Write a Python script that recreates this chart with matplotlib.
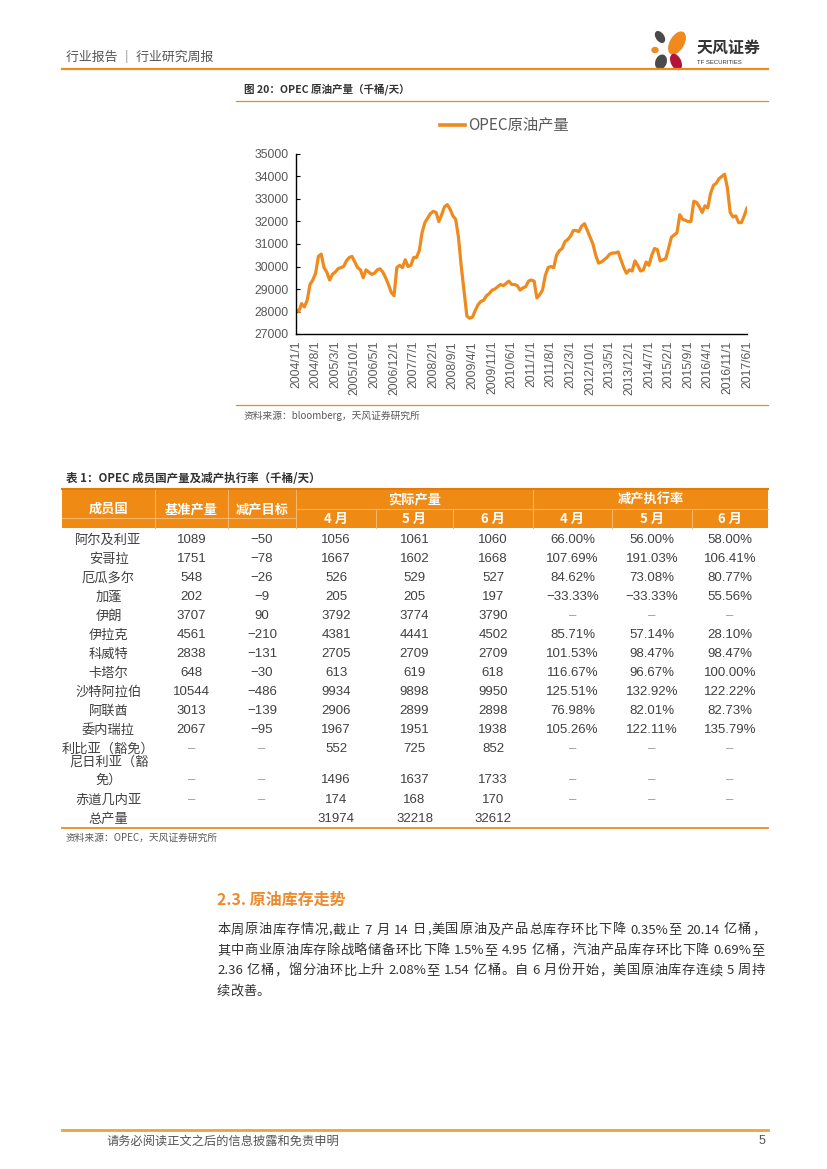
import re
import numpy as np
import pandas as pd
import matplotlib
matplotlib.use("Agg")
import matplotlib.pyplot as plt
from matplotlib.patches import Rectangle, Ellipse
from matplotlib.font_manager import FontProperties

plt.rcParams['font.family'] = ['Liberation Sans', 'Noto Sans CJK SC', 'DejaVu Sans']

ORANGE = '#EE8A1E'
GRAY = '#595959'
DARK = '#333333'

# ---- chart data: OPEC crude output, monthly 2004/1 .. 2017/6 (kb/d)
opec = [28050, 28000, 28350, 28200, 28500, 29200, 29400, 29700, 30450, 30550,
        29950, 29750, 29400, 29650, 29750, 29900, 29950, 30000, 30250, 30400,
        30450, 30200, 29950, 29850, 29500, 29850, 29750, 29650, 29700, 29850,
        29900, 29750, 29500, 29200, 28850, 28700, 29950, 30050, 29950, 30300,
        30000, 30050, 30400, 30400, 30700, 31500, 31950, 32150, 32350, 32450,
        32400, 32000, 32300, 32650, 32750, 32550, 32250, 32100, 31300, 30000,
        28900, 27800, 27700, 27750, 28050, 28300, 28450, 28500, 28700, 28800,
        28950, 29000, 29100, 29200, 29150, 29250, 29350, 29200, 29200, 29150,
        28950, 29050, 29100, 29350, 29400, 29350, 28600, 28750, 28950, 29600,
        29950, 30000, 29950, 30500, 30700, 30800, 31100, 31200, 31350, 31600,
        31600, 31550, 31800, 31900, 31600, 31300, 31000, 30500, 30150, 30200,
        30300, 30400, 30550, 30600, 30600, 30650, 30300, 29950, 29700, 29850,
        29800, 30250, 30050, 29800, 29850, 30200, 30050, 30500, 30800, 30750,
        30250, 30300, 30350, 30800, 31300, 31400, 31500, 32300, 32100, 32050,
        32000, 32000, 32900, 32850, 32650, 32400, 32700, 32600, 33250, 33600,
        33700, 33900, 34000, 34100, 33500, 32400, 32200, 32250, 31950, 31950,
        32250, 32600]
months = pd.date_range('2004-01-01', periods=len(opec), freq='MS')
month_labels = [f'{d.year}/{d.month}/1' for d in months]

# ---- table data
countries = ['阿尔及利亚', '安哥拉', '厄瓜多尔', '加蓬', '伊朗', '伊拉克', '科威特', '卡塔尔',
             '沙特阿拉伯', '阿联酋', '委内瑞拉', '利比亚（豁免）', '尼日利亚（豁\n免）',
             '赤道几内亚', '总产量']
base = ['1089', '1751', '548', '202', '3707', '4561', '2838', '648', '10544', '3013',
        '2067', '–', '–', '–', '']
target = ['−50', '−78', '−26', '−9', '90', '−210', '−131', '−30', '−486', '−139',
          '−95', '–', '–', '–', '']
prod_apr = ['1056', '1667', '526', '205', '3792', '4381', '2705', '613', '9934', '2906',
            '1967', '552', '1496', '174', '31974']
prod_may = ['1061', '1602', '529', '205', '3774', '4441', '2709', '619', '9898', '2899',
            '1951', '725', '1637', '168', '32218']
prod_jun = ['1060', '1668', '527', '197', '3790', '4502', '2709', '618', '9950', '2898',
            '1938', '852', '1733', '170', '32612']
rate_apr = ['66.00%', '107.69%', '84.62%', '−33.33%', '–', '85.71%', '101.53%', '116.67%',
            '125.51%', '76.98%', '105.26%', '–', '–', '–', '']
rate_may = ['56.00%', '191.03%', '73.08%', '−33.33%', '–', '57.14%', '98.47%', '96.67%',
            '132.92%', '82.01%', '122.11%', '–', '–', '–', '']
rate_jun = ['58.00%', '106.41%', '80.77%', '55.56%', '–', '28.10%', '98.47%', '100.00%',
            '122.22%', '82.73%', '135.79%', '–', '–', '–', '']

paragraph = [
    '本周原油库存情况,截止 7 月 14 日,美国原油及产品总库存环比下降 0.35%至 20.14 亿桶，',
    '其中商业原油库存除战略储备环比下降 1.5%至 4.95 亿桶，汽油产品库存环比下降 0.69%至',
    '2.36 亿桶，馏分油环比上升 2.08%至 1.54 亿桶。自 6 月份开始，美国原油库存连续 5 周持',
    '续改善。',
]

W, H = 827, 1169
fig = plt.figure(figsize=(W / 100, H / 100), dpi=100)
pg = fig.add_axes([0, 0, 1, 1])
pg.set_xlim(0, W)
pg.set_ylim(H, 0)
pg.axis('off')

cjk = ['Noto Sans CJK SC', 'DejaVu Sans']

# ---- page header
pg.text(66, 57, '行业报告 ｜ 行业研究周报', fontsize=9.3, color='#555555', family=cjk,
        va='center', fontweight='medium')
pg.plot([62, 768], [69, 69], color=ORANGE, lw=1.6)
# logo petals
pg.add_patch(Ellipse((660, 37), 7, 12, angle=-35, color='#4a4a4a'))
pg.add_patch(Ellipse((677, 43), 13, 24, angle=30, color='#F08A1C'))
pg.add_patch(Ellipse((655, 50), 6, 5, color='#F08A1C'))
pg.add_patch(Ellipse((661, 62), 10, 14, angle=20, color='#4a4a4a'))
pg.add_patch(Ellipse((676, 62), 9, 16, angle=-25, color='#B5123A'))
pg.text(697, 48, '天风证券', fontsize=11.5, color=DARK, family=cjk, va='center',
        fontweight='bold')
pg.text(697, 63, 'TF SECURITIES', fontsize=4.3, color=DARK, va='center')

# ---- figure caption
pg.text(244, 89, '图 20：OPEC 原油产量（千桶/天）', fontsize=7.6, color=DARK, family=cjk,
        va='center', fontweight='bold')
pg.plot([236, 768], [101, 101], color=ORANGE, lw=0.9)
pg.plot([440, 465], [125, 125], color=ORANGE, lw=2.6)
pg.text(468, 125, 'OPEC原油产量', fontsize=11, color=GRAY, family=cjk, va='center')

ax = fig.add_axes([296 / W, 1 - 334 / H, (747 - 296) / W, (334 - 154) / H])
x = np.arange(len(opec))
ax.plot(x, opec, color=ORANGE, lw=2.3, solid_joinstyle='round')
ax.set_xlim(0, len(opec) - 1)
ax.set_ylim(27000, 35000)
ax.set_yticks(np.arange(27000, 35001, 1000))
ax.set_xticks(x[::7])
ax.set_xticklabels(month_labels[::7], rotation=90, fontsize=8.8, color=GRAY)
ax.tick_params(axis='y', direction='in', length=3, labelsize=8.8, labelcolor=GRAY, pad=5)
ax.tick_params(axis='x', length=0, pad=5)
for s in ['top', 'right']:
    ax.spines[s].set_visible(False)
for s in ['left', 'bottom']:
    ax.spines[s].set_linewidth(1.0)

pg.plot([236, 768], [405, 405], color=ORANGE, lw=0.9)
pg.text(244, 416, '资料来源：bloomberg，天风证券研究所', fontsize=7, color=GRAY,
        family=cjk, va='center')

# ---- table
pg.text(66, 478, '表 1：OPEC 成员国产量及减产执行率（千桶/天）', fontsize=8.3, color=DARK,
        family=cjk, va='center', fontweight='bold')
bounds = [62, 155, 228, 296, 376, 453, 533, 612, 692, 768]
centers = [(a + b) / 2 for a, b in zip(bounds[:-1], bounds[1:])]
top, mid, bot = 489, 509, 528
sep = '#F6B66C'
pg.add_patch(Rectangle((62, top), 768 - 62, bot - top, color='#EF8A14', lw=0))
pg.plot([62, 768], [top, top], color='#E57A08', lw=1.5)
for b in [155, 228, 296, 533]:
    pg.plot([b, b], [top + 1, bot], color=sep, lw=0.8)
for b in [376, 453, 612, 692]:
    pg.plot([b, b], [mid, bot], color=sep, lw=0.8)
pg.plot([296, 768], [mid, mid], color=sep, lw=0.8)
pg.plot([62, 296], [518, 518], color=sep, lw=0.8)
hdr = dict(fontsize=9.5, color='white', family=cjk, ha='center', va='center',
           fontweight='bold')
for c, t in zip(centers[:3], ['成员国', '基准产量', '减产目标']):
    pg.text(c, 509, t, **hdr)
pg.text((296 + 533) / 2, 499, '实际产量', **hdr)
pg.text((533 + 768) / 2, 499, '减产执行率', **hdr)
for c, t in zip(centers[3:], ['4 月', '5 月', '6 月'] * 2):
    pg.text(c, 519, t, **hdr)

row_y = [540, 559, 578, 597, 616, 635, 654, 673, 692, 711, 730, 749, 780, 800, 819]
cols = [base, target, prod_apr, prod_may, prod_jun, rate_apr, rate_may, rate_jun]
cell = dict(fontsize=9.5, color='#404040', ha='center', va='center')
for i, y in enumerate(row_y):
    parts = countries[i].split('\n')
    for k, p in enumerate(parts):
        pg.text(centers[0], y - 18 * (len(parts) - 1 - k), p, family=cjk, **cell)
    for j, col in enumerate(cols):
        v = col[i]
        if v == '–':
            pg.text(centers[j + 1], y, v, fontsize=9.5, color='#9a9a9a',
                    ha='center', va='center')
        elif v:
            pg.text(centers[j + 1], y, v, **cell)
pg.plot([62, 768], [828, 828], color=ORANGE, lw=1.3)
pg.text(66, 838, '资料来源：OPEC，天风证券研究所', fontsize=7, color=GRAY, family=cjk,
        va='center')

# ---- text section
pg.text(217, 900, '2.3. 原油库存走势', fontsize=11.5, color='#EE8A2E', family=cjk,
        va='center', fontweight='bold')

renderer = fig.canvas.get_renderer()
prop = FontProperties(family=cjk, size=9.5)


def tok_w(t):
    if t == ' ':
        return (renderer.get_text_width_height_descent('x x', prop, ismath=False)[0]
                - renderer.get_text_width_height_descent('xx', prop, ismath=False)[0])
    return renderer.get_text_width_height_descent(t, prop, ismath=False)[0]


# justified lines: ascii runs stay together, cjk chars spread
x0, x1 = 217, 765
for k, line in enumerate(paragraph):
    y = 930 + k * 20.4
    toks = re.findall(r'[0-9A-Za-z.%]+| |.', line)
    widths = [tok_w(t) for t in toks]
    last = k == len(paragraph) - 1
    extra = 0 if last else (x1 - x0 - sum(widths)) / (len(toks) - 1)
    xc = x0
    for t, w in zip(toks, widths):
        if t != ' ':
            pg.text(xc, y, t, fontproperties=prop, color=DARK, va='center')
        xc += w + extra

# ---- footer
pg.plot([62, 768], [1130, 1130], color='#F0A040', lw=2)
pg.text(106, 1141, '请务必阅读正文之后的信息披露和免责申明', fontsize=8.8, color='#555555',
        family=cjk, va='center')
pg.text(765, 1141, '5', fontsize=9, color='#555555', va='center', ha='right')

fig.savefig('out.png', dpi=100)
